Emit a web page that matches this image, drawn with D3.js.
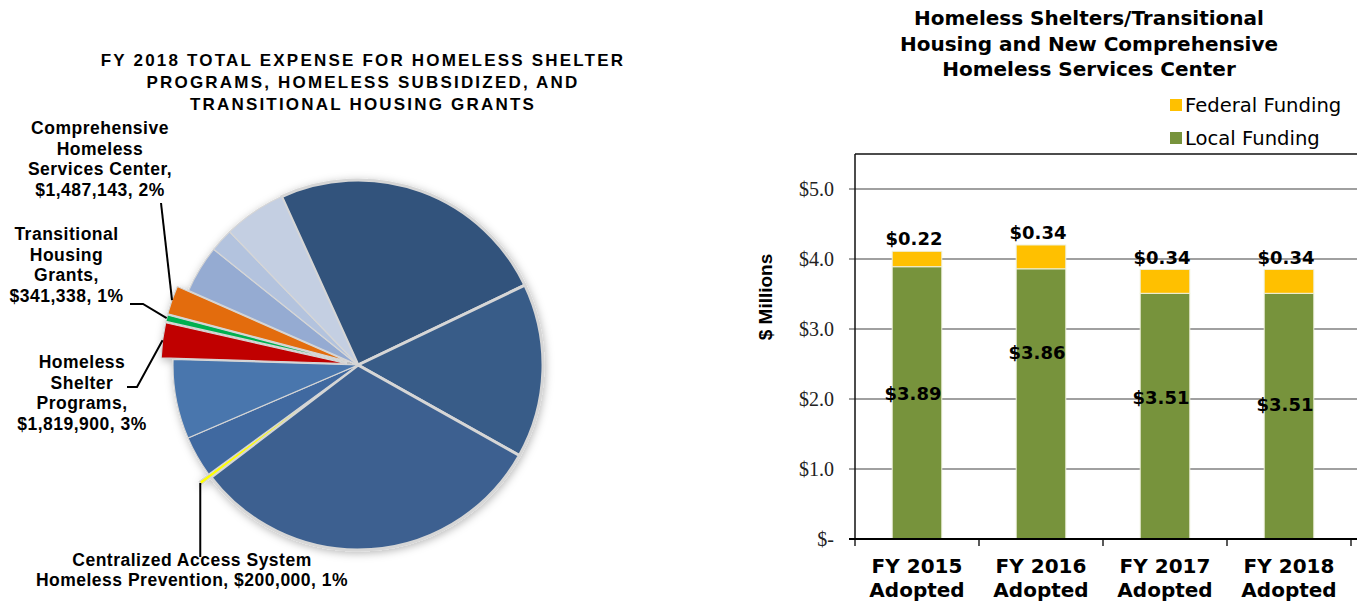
<!DOCTYPE html>
<html>
<head>
<meta charset="utf-8">
<script src="https://cdn.jsdelivr.net/npm/d3@7"></script>
<style>
  html, body { margin: 0; padding: 0; background: #fff; }
  svg { display: block; }
</style>
</head>
<body>
<svg id="chart" width="1357" height="601"></svg>
<script>
// ---------- Pie: FY 2018 total expense ----------
const pieValues = [14730000, 9090000, 18790000, 200000, 2150000, 4140000,
                   1819900, 341338, 1487143, 2480000, 1220000, 3240000];
const pieNames = [null, null, null,
                  ["Centralized Access System", "Homeless Prevention,"],
                  null, null,
                  ["Homeless", "Shelter", "Programs,"],
                  ["Transitional", "Housing", "Grants,"],
                  ["Comprehensive", "Homeless", "Services Center,"],
                  null, null, null];
const piePercents = [null, null, null, "1%", null, null, "3%", "1%", "2%", null, null, null];
const pieTitle = ["FY 2018 TOTAL EXPENSE FOR HOMELESS SHELTER",
                  "PROGRAMS, HOMELESS SUBSIDIZED, AND",
                  "TRANSITIONAL HOUSING GRANTS"];

// ---------- Bars: funding by fiscal year ($ millions) ----------
const years = ["FY 2015", "FY 2016", "FY 2017", "FY 2018"];
const localFunding = [3.89, 3.86, 3.51, 3.51];
const federalFunding = [0.22, 0.34, 0.34, 0.34];
const yTickValues = [0, 1, 2, 3, 4, 5];
const barTitle = ["Homeless Shelters/Transitional",
                  "Housing and New Comprehensive",
                  "Homeless Services Center"];
const seriesNames = ["Federal Funding", "Local Funding"];

const svg = d3.select("#chart");
const fmtDollar = d3.format(",");

// ===== Pie chart =====
const pieColors = ["#31527b", "#375b88", "#3d6190", "#ffff00", "#4169a0", "#4876ad",
                   "#c00000", "#00b050", "#e36c0a", "#95abd2", "#b3c3de", "#c4cfe2"];
const pieCx = 358, pieCy = 365, pieR = 185, explode = 12;
const explodedIdx = new Set([3, 6, 7, 8]);
const wideGapIdx = new Set([0, 1, 2]);

const defs = svg.append("defs");
const shadow = defs.append("filter").attr("id", "pieShadow")
  .attr("x", "-20%").attr("y", "-20%").attr("width", "140%").attr("height", "140%");
shadow.append("feDropShadow").attr("dx", 1).attr("dy", 2)
  .attr("stdDeviation", 4).attr("flood-color", "#000").attr("flood-opacity", 0.28);

const startA = -24.4 * Math.PI / 180;
const pie = d3.pie().sort(null).startAngle(startA).endAngle(startA + 2 * Math.PI);
const arcs = pie(pieValues);
const arc = d3.arc().innerRadius(0).outerRadius(pieR);

const pieG = svg.append("g").attr("transform", `translate(${pieCx},${pieCy})`)
  .attr("filter", "url(#pieShadow)");

function offsetOf(d) {
  if (!explodedIdx.has(d.index)) return [0, 0];
  const m = (d.startAngle + d.endAngle) / 2;
  return [Math.sin(m) * explode, -Math.cos(m) * explode];
}

pieG.selectAll("path.slice").data(arcs).join("path")
  .attr("class", "slice")
  .attr("d", arc)
  .attr("transform", d => { const o = offsetOf(d); return `translate(${o[0]},${o[1]})`; })
  .attr("fill", (d, i) => pieColors[i])
  .attr("stroke", "#d6d6d6")
  .attr("stroke-linejoin", "round")
  .attr("stroke-width", d => wideGapIdx.has(d.index) ? 3 : 1.2);

// Pie title
svg.append("g").selectAll("text").data(pieTitle).join("text")
  .attr("x", 363).attr("y", (d, i) => 66 + i * 22)
  .attr("text-anchor", "middle")
  .style("font-family", "'Liberation Sans', Arial, sans-serif")
  .style("font-weight", "bold").style("font-size", "17px")
  .style("letter-spacing", "2.2px")
  .text(d => d);

// Slice labels with leader lines
const labelLayout = {
  3: { x: 192, y: 566, lead: d => [[d[0], 557]] },
  6: { x: 82, y: 368, lead: () => [[127, 387], [137, 387]] },
  7: { x: 66.5, y: 240, lead: () => [[130, 304], [143, 304]] },
  8: { x: 100, y: 134, lead: () => [[161, 203]] }
};
const labelG = svg.append("g");
arcs.forEach(d => {
  const lay = labelLayout[d.index];
  if (!lay) return;
  const m = (d.startAngle + d.endAngle) / 2;
  const rr = pieR + explode;
  const tip = [pieCx + Math.sin(m) * rr, pieCy - Math.cos(m) * rr];
  const pts = lay.lead(tip).concat([tip]);
  labelG.append("path")
    .attr("d", d3.line()(pts))
    .attr("fill", "none").attr("stroke", "#000").attr("stroke-width", 2);

  const names = pieNames[d.index].slice();
  const tail = "$" + fmtDollar(d.value) + ", " + piePercents[d.index];
  let lines;
  if (d.index === 3) {
    lines = [names[0], names[1] + " " + tail];
  } else {
    lines = names.concat([tail]);
  }
  labelG.selectAll(null).data(lines).enter().append("text")
    .attr("x", lay.x).attr("y", (t, i) => lay.y + i * (d.index === 3 ? 19.5 : 20.7))
    .attr("text-anchor", "middle")
    .style("font-family", "'Liberation Sans', Arial, sans-serif")
    .style("font-weight", "bold").style("font-size", "17.5px")
    .style("letter-spacing", "0.5px")
    .text(t => t);
});

// ===== Stacked bar chart =====
const plotL = 855, plotR = 1351, plotT = 154, plotB = 539;
const x = d3.scaleBand().domain(years).range([plotL, plotR])
  .paddingInner(0.6).paddingOuter(0.3);
const y = d3.scaleLinear().domain([0, 5.5]).range([plotB, plotT]);

const rows = years.map((yr, i) => ({ year: yr, local: localFunding[i], federal: federalFunding[i] }));
const stacked = d3.stack().keys(["local", "federal"])(rows);
const barColors = { local: "#77933c", federal: "#ffc000" };

const barG = svg.append("g");

// gridlines (with outward tick stubs)
barG.append("g").selectAll("line").data(yTickValues.filter(v => v > 0)).join("line")
  .attr("x1", plotL - 6).attr("x2", 1360)
  .attr("y1", d => y(d)).attr("y2", d => y(d))
  .attr("stroke", "#808080").attr("stroke-width", 1.3);

// y tick labels
barG.append("g").selectAll("text").data(yTickValues).join("text")
  .attr("x", 834).attr("y", d => y(d))
  .attr("dy", "0.34em")
  .attr("text-anchor", "end")
  .style("font-family", "'Liberation Serif', 'Times New Roman', serif")
  .style("font-size", "20px").attr("fill", "#222")
  .text(d => d === 0 ? "$-" : "$" + d3.format(".1f")(d));

// bars
barG.append("g").selectAll("g").data(stacked).join("g")
  .attr("fill", s => barColors[s.key])
  .selectAll("rect").data(s => s).join("rect")
  .attr("x", d => x(d.data.year))
  .attr("width", x.bandwidth())
  .attr("y", d => y(d[1]))
  .attr("height", d => y(d[0]) - y(d[1]))
  .attr("stroke", "#eef0dc").attr("stroke-width", 1);

// plot frame: left axis + top border
barG.append("line").attr("x1", plotL).attr("x2", plotL).attr("y1", plotT).attr("y2", plotB)
  .attr("stroke", "#111").attr("stroke-width", 1.5);
barG.append("line").attr("x1", plotL).attr("x2", 1360).attr("y1", plotT).attr("y2", plotT)
  .attr("stroke", "#111").attr("stroke-width", 1.5);

// x axis line and category boundary ticks
barG.append("line").attr("x1", plotL - 6).attr("x2", 1360).attr("y1", plotB).attr("y2", plotB)
  .attr("stroke", "#000").attr("stroke-width", 2);
const step = x.step();
barG.append("g").selectAll("line").data(d3.range(years.length + 1)).join("line")
  .attr("x1", i => plotL + i * step).attr("x2", i => plotL + i * step)
  .attr("y1", plotB).attr("y2", plotB + 7)
  .attr("stroke", "#000").attr("stroke-width", 1.3);

// category labels
const catG = barG.append("g");
years.forEach(yr => {
  const cx = x(yr) + x.bandwidth() / 2;
  [yr, "Adopted"].forEach((t, i) => {
    catG.append("text").attr("x", cx).attr("y", 573 + i * 24)
      .attr("text-anchor", "middle")
      .style("font-family", "'DejaVu Sans', Verdana, sans-serif")
      .style("font-weight", "bold").style("font-size", "20px")
      .text(t);
  });
});

// value labels
const labelFont = sel => sel.attr("text-anchor", "middle")
  .style("font-family", "'DejaVu Sans', Verdana, sans-serif")
  .style("font-weight", "bold").style("font-size", "18px");
const localLabelNudge = [-9, -51, -19, -12];
barG.append("g").selectAll("text").data(rows).join("text")
  .attr("x", d => x(d.year) + x.bandwidth() / 2 - 3)
  .attr("y", d => y(d.local + d.federal) - 6)
  .call(labelFont)
  .text(d => "$" + d3.format(".2f")(d.federal));
barG.append("g").selectAll("text").data(rows).join("text")
  .attr("x", d => x(d.year) + x.bandwidth() / 2 - 4)
  .attr("y", (d, i) => y(d.local / 2) + localLabelNudge[i])
  .attr("dy", "0.36em")
  .call(labelFont)
  .text(d => "$" + d3.format(".2f")(d.local));

// y axis title
svg.append("text")
  .attr("transform", "translate(772,297) rotate(-90)")
  .attr("text-anchor", "middle")
  .style("font-family", "'Liberation Sans', Arial, sans-serif")
  .style("font-weight", "bold").style("font-size", "19px")
  .text("$ Millions");

// chart title
svg.append("g").selectAll("text").data(barTitle).join("text")
  .attr("x", 1089).attr("y", (d, i) => 25 + i * 25.5)
  .attr("text-anchor", "middle")
  .style("font-family", "'DejaVu Sans', Verdana, sans-serif")
  .style("font-weight", "bold").style("font-size", "20px")
  .text(d => d);

// legend
const legendColors = [barColors.federal, barColors.local];
const legG = svg.append("g");
seriesNames.forEach((n, i) => {
  legG.append("rect").attr("x", 1170).attr("y", 99 + i * 33)
    .attr("width", 12).attr("height", 12).attr("fill", legendColors[i]);
  legG.append("text").attr("x", 1185).attr("y", 112 + i * 33)
    .style("font-family", "'DejaVu Sans', Verdana, sans-serif")
    .style("font-size", "19.6px")
    .text(n);
});
</script>
</body>
</html>
